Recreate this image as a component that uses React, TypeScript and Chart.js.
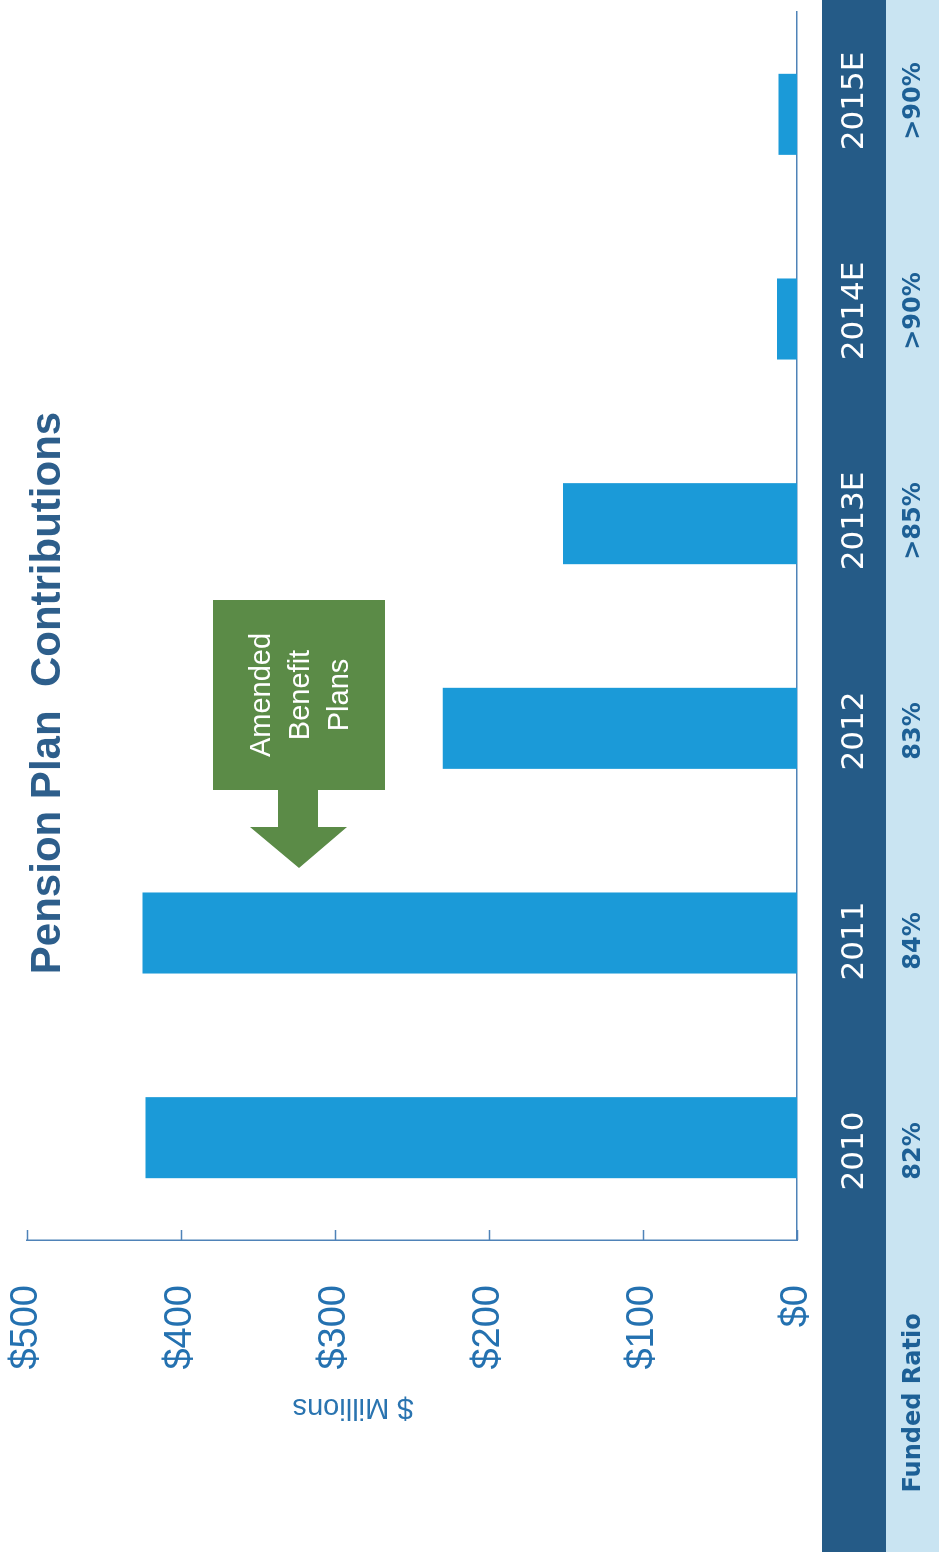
import React, { useEffect, useRef } from "react";
import { Chart, registerables } from "chart.js";

Chart.register(...registerables);

const categories = ["2010", "2011", "2012", "2013E", "2014E", "2015E"];
const contributions = [423, 425, 230, 152, 13, 12];
const fundedRatios = ["82%", "84%", "83%", ">85%", ">90%", ">90%"];
const yTicks = [0, 100, 200, 300, 400, 500];
const titleText = "Pension Plan  Contributions";
const yAxisTitle = "$ Millions";
const rowLabel = "Funded Ratio";
const annotationLines = ["Amended", "Benefit", "Plans"];

const W = 1559;
const H = 939;
const TABLE_COL_STEP = 210;

const overlayPlugin = {
  id: "overlay",
  beforeDraw(chart: any) {
    const ctx = chart.ctx;
    ctx.save();
    ctx.fillStyle = "#255b87";
    ctx.fillRect(7, 822, W - 7, 64);
    ctx.fillStyle = "#c9e4f2";
    ctx.fillRect(7, 886, W - 7, H - 886);
    ctx.restore();
  },
  afterDraw(chart: any) {
    const ctx = chart.ctx;
    const ys = chart.scales.y;
    const area = chart.chartArea;
    ctx.save();
    // inward ticks
    ctx.strokeStyle = "#4f83b8";
    ctx.lineWidth = 1.5;
    yTicks.forEach((v) => {
      const y = Math.round(ys.getPixelForValue(v)) + 0.5;
      ctx.beginPath();
      ctx.moveTo(area.left, y);
      ctx.lineTo(area.left + 10, y);
      ctx.stroke();
    });
    // table: category labels & funded ratios
    const mid = (area.left + area.right) / 2;
    ctx.textAlign = "center";
    ctx.textBaseline = "middle";
    categories.forEach((c, i) => {
      const x = mid + (i - (categories.length - 1) / 2) * TABLE_COL_STEP;
      ctx.fillStyle = "#ffffff";
      ctx.font = "31px 'DejaVu Sans'";
      ctx.fillText(c, x, 855);
      ctx.fillStyle = "#1d6096";
      ctx.font = "bold 24px 'DejaVu Sans'";
      ctx.fillText(fundedRatios[i], x, 914);
    });
    ctx.fillStyle = "#1d6096";
    ctx.font = "bold 24px 'DejaVu Sans'";
    ctx.fillText(rowLabel, 156, 914);
    // title
    ctx.fillStyle = "#2d5e8b";
    ctx.font = "bold 42px 'Liberation Sans', Arial";
    ctx.fillText(titleText, 866, 48);
    // y axis title
    ctx.save();
    ctx.translate(152, 353);
    ctx.rotate(-Math.PI / 2);
    ctx.fillStyle = "#2a74b0";
    ctx.font = "29px 'Liberation Sans', Arial";
    ctx.fillText(yAxisTitle, 0, 0);
    ctx.restore();
    // annotation box + arrow
    ctx.fillStyle = "#5b8b47";
    ctx.fillRect(769, 213, 190, 172);
    ctx.beginPath();
    ctx.moveTo(770, 278);
    ctx.lineTo(732, 278);
    ctx.lineTo(732, 250);
    ctx.lineTo(691, 299);
    ctx.lineTo(732, 347);
    ctx.lineTo(732, 318);
    ctx.lineTo(770, 318);
    ctx.closePath();
    ctx.fill();
    ctx.fillStyle = "#ffffff";
    ctx.font = "29px 'Liberation Sans', Arial";
    annotationLines.forEach((t, i) => {
      ctx.fillText(t, 864, 262 + i * 39);
    });
    ctx.restore();
  },
};

export default function App() {
  const ref = useRef<HTMLCanvasElement>(null);
  useEffect(() => {
    if (!ref.current) return;
    const chart = new Chart(ref.current, {
      type: "bar",
      data: {
        labels: categories,
        datasets: [
          {
            data: contributions,
            backgroundColor: "#1b9ad8",
            categoryPercentage: 1,
            barPercentage: 0.396,
          },
        ],
      },
      options: {
        responsive: false,
        animation: false,
        layout: { padding: { top: 27, right: 12, bottom: 142, left: 0 } },
        plugins: { legend: { display: false }, tooltip: { enabled: false } },
        scales: {
          x: {
            ticks: { display: false },
            grid: { display: false, drawTicks: false },
            border: { display: true, color: "#4f83b8", width: 1.5 },
            afterFit: (s: any) => {
              s.height = 0;
            },
          },
          y: {
            min: 0,
            max: 500,
            ticks: {
              stepSize: 100,
              padding: 0,
              color: "#2471b0",
              font: { family: "'Liberation Sans', Arial", size: 38 },
              callback: (v: any) => "$" + v,
            },
            grid: { display: false, drawTicks: true, tickLength: 45 },
            border: { display: true, color: "#4f83b8", width: 1.5 },
            afterFit: (s: any) => {
              s.width = 319;
            },
          },
        },
      },
      plugins: [overlayPlugin],
    });
    return () => chart.destroy();
  }, []);
  return (
    <div
      style={{
        position: "absolute",
        left: 0,
        top: 0,
        width: H,
        height: W,
        overflow: "hidden",
        background: "#ffffff",
      }}
    >
      <div
        style={{
          position: "absolute",
          left: 0,
          top: 0,
          width: W,
          height: H,
          transformOrigin: "0 0",
          transform: `translateY(${W}px) rotate(-90deg)`,
        }}
      >
        <canvas ref={ref} width={W} height={H} style={{ width: W, height: H, display: "block" }} />
      </div>
    </div>
  );
}
